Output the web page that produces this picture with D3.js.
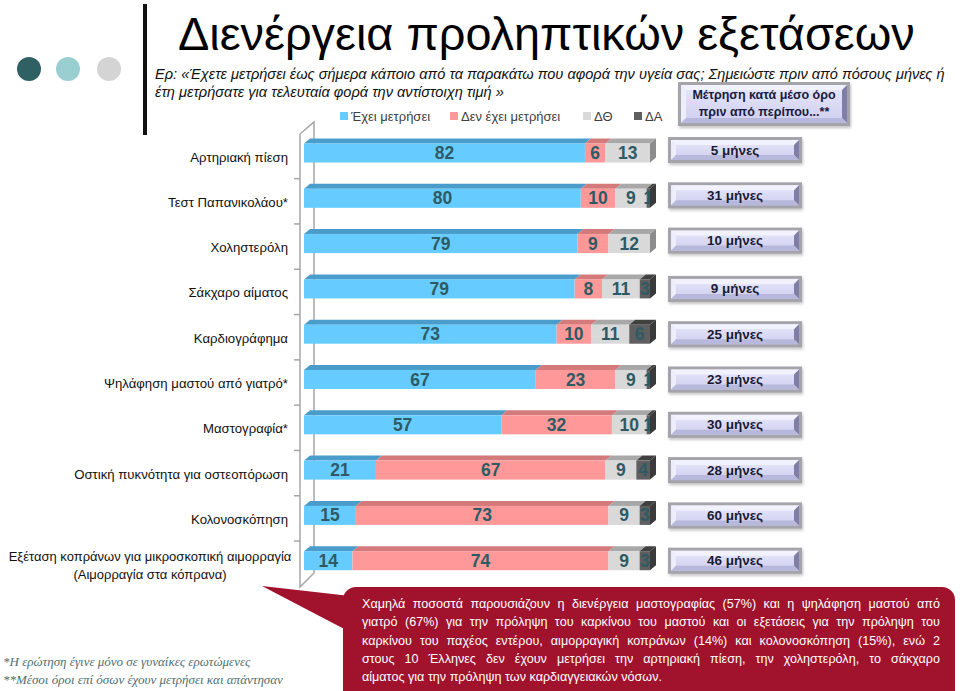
<!DOCTYPE html>
<html><head><meta charset="utf-8">
<script src="https://cdn.jsdelivr.net/npm/d3@7"></script>
<style>body{margin:0;background:#fff}svg{display:block}</style>
</head><body>
<script>
// ---- DATA ----
const categories = ["Αρτηριακή πίεση","Τεστ Παπανικολάου*","Χοληστερόλη","Σάκχαρο αίματος","Καρδιογράφημα","Ψηλάφηση μαστού από γιατρό*","Μαστογραφία*","Οστική πυκνότητα για οστεοπόρωση","Κολονοσκόπηση","Εξέταση κοπράνων για μικροσκοπική αιμορραγία|(Αιμορραγία στα κόπρανα)"];
const measured    = [82,80,79,79,73,67,57,21,15,14];
const notMeasured = [6,10,9,8,10,23,32,67,73,74];
const dontKnow    = [13,9,12,11,11,9,10,9,9,9];
const noAnswer    = [0,1,0,3,6,1,1,4,3,3];
const months      = [5,31,10,9,25,23,30,28,60,46];
const seriesNames = ["Έχει μετρήσει","Δεν έχει μετρήσει","ΔΘ","ΔΑ"];
const monthUnit = "μήνες";
const title = "Διενέργεια προληπτικών εξετάσεων";
const subtitle = ["Ερ: «Έχετε μετρήσει έως σήμερα κάποιο από τα παρακάτω που αφορά την υγεία σας; Σημειώστε πριν από πόσους μήνες ή","έτη μετρήσατε για τελευταία φορά την αντίστοιχη τιμή »"];
const headerBox = ["Μέτρηση κατά μέσο όρο","πριν από περίπου...**"];
const footnotes = ["*Η ερώτηση έγινε μόνο σε γυναίκες ερωτώμενες","**Μέσοι όροι επί όσων έχουν μετρήσει και απάντησαν"];
const calloutLines = ["Χαμηλά ποσοστά παρουσιάζουν η διενέργεια μαστογραφίας (57%) και η ψηλάφηση μαστού από","γιατρό (67%) για την πρόληψη του καρκίνου του μαστού και οι εξετάσεις για την πρόληψη του","καρκίνου του παχέος εντέρου, αιμορραγική κοπράνων (14%) και κολονοσκόπηση (15%), ενώ 2","στους 10 Έλληνες δεν έχουν μετρήσει την αρτηριακή πίεση, την χοληστερόλη, το σάκχαρο","αίματος για την πρόληψη των καρδιαγγειακών νόσων."];

// ---- STYLE ----
const W = 960, H = 691;
const front = ["#66CCFF","#FF9999","#D9D9D9","#5F5F5F"];
const topC  = ["#4A9DCB","#D47A7A","#A8A8A8","#404040"];
const sideC = ["#3F88B0","#C06060","#8C8C8C","#3A3A3A"];
const DX = 6, DY = 5;

const svg = d3.select("body").append("svg").attr("width", W).attr("height", H);
const defs = svg.append("defs");
const lg = defs.append("linearGradient").attr("id","lav").attr("x1",0).attr("y1",0).attr("x2",0).attr("y2",1);
lg.append("stop").attr("offset","0%").attr("stop-color","#E6E6FA");
lg.append("stop").attr("offset","100%").attr("stop-color","#CFCFF0");
const blur = defs.append("filter").attr("id","sh").attr("x","-20%").attr("y","-30%").attr("width","140%").attr("height","160%");
blur.append("feGaussianBlur").attr("stdDeviation",1.5);

function fit(t, w){ const fs = +t.attr("font-size"); const n=t.node().getComputedTextLength(); t.attr("font-size", fs*w/n); }

// decoration
const dots = [["#2F6064",29],["#9ACFD1",68],["#D4D4D4",109]];
svg.selectAll("circle.dot").data(dots).enter().append("circle")
  .attr("cx",d=>d[1]).attr("cy",69).attr("r",12).attr("fill",d=>d[0]);
svg.append("rect").attr("x",143).attr("y",4).attr("width",4).attr("height",131).attr("fill","#111");

// title
const tt = svg.append("text").attr("x",178).attr("y",50).attr("font-family","Liberation Sans, Arial, sans-serif")
  .attr("font-size",44).attr("fill","#000").text(title);
fit(tt, 737);

const subs = svg.selectAll("text.sub").data(subtitle).enter().append("text")
  .attr("x",155).attr("y",(d,i)=>79+i*18).attr("font-family","Liberation Sans, Arial, sans-serif")
  .attr("font-style","italic").attr("font-size",13.6).attr("fill","#111").text(d=>d);
const s0 = d3.select(subs.nodes()[0]); fit(s0, 790); d3.select(subs.nodes()[1]).attr("font-size", s0.attr("font-size"));

// legend
const legX = [340,450,583,634];
const leg = svg.selectAll("g.leg").data(seriesNames).enter().append("g").attr("transform",(d,i)=>`translate(${legX[i]},0)`);
leg.append("rect").attr("x",0).attr("y",112).attr("width",8).attr("height",8).attr("fill",(d,i)=>front[i]);
leg.append("text").attr("x",11).attr("y",121).attr("font-family","Liberation Sans, Arial, sans-serif")
  .attr("font-size",13).attr("fill","#404040").text(d=>d);

// ---- SCALES ----
const x = d3.scaleLinear().domain([0,1]).range([304,650]);
const y = d3.scaleBand().domain(categories).range([130.35,583.35]).paddingInner(0.58).paddingOuter(0.29);
const bh = y.bandwidth();

const rows = categories.map((c,i)=>({cat:c, s0:measured[i], s1:notMeasured[i], s2:dontKnow[i], s3:noAnswer[i]}));
const keys = ["s0","s1","s2","s3"];
const stack = d3.stack().keys(keys).offset(d3.stackOffsetExpand)(rows);

// axis (3D wall edges)
const axG = svg.append("g").attr("stroke","#A6A6A6").attr("stroke-width",1.5).attr("fill","none");
axG.append("path").attr("d","M300,134 L314,122 L314,573 L300,587 L300,134");
const bounds = categories.slice(0,-1).map(c => y(c) + bh + (y.step()-bh)/2 + 3);
axG.selectAll("line.tk").data(bounds).enter().append("line")
  .attr("x1",294).attr("x2",300).attr("y1",d=>d).attr("y2",d=>d);

// left labels
const lab = svg.selectAll("text.cat").data(categories).enter().append("text")
  .attr("font-family","Liberation Sans, Arial, sans-serif").attr("font-size",13.2).attr("fill","#111");
lab.each(function(d){
  const t = d3.select(this), parts = d.split("|"), cy = y(d)+bh/2+4;
  if(parts.length===1){ t.attr("x",288).attr("y",cy+4.5).attr("text-anchor","end").text(d); }
  else {
    t.attr("text-anchor","middle").attr("font-size",13);
    parts.forEach((p,k)=>t.append("tspan").attr("x",150).attr("y",cy-4+k*18).text(p));
  }
});

// bars
const barsG = svg.append("g");
const segs = [];
stack.forEach((layer,li)=>{
  layer.forEach((d,ri)=>{
    const v = rows[ri][keys[li]];
    if(v>0) segs.push({li, ri, v, x0:x(d[0]), x1:x(d[1]), y:y(rows[ri].cat)});
  });
});
barsG.selectAll("path.top").data(segs).enter().append("path")
  .attr("d",s=>`M${s.x0},${s.y} L${s.x0+DX},${s.y-DY} L${s.x1+DX},${s.y-DY} L${s.x1},${s.y} Z`)
  .attr("fill",s=>topC[s.li]);
barsG.selectAll("rect.fr").data(segs).enter().append("rect")
  .attr("x",s=>s.x0).attr("y",s=>s.y).attr("width",s=>s.x1-s.x0).attr("height",bh)
  .attr("fill",s=>front[s.li]);
barsG.selectAll("text.val").data(segs).enter().append("text")
  .attr("x",s=>(s.x0+s.x1)/2).attr("y",s=>s.y+bh/2+6)
  .attr("text-anchor","middle").attr("font-family","Liberation Sans, Arial, sans-serif")
  .attr("font-weight","bold").attr("font-size",17.5).attr("fill","#2E5B63").text(s=>s.v);
const lastSegs = d3.rollups(segs, v=>v[v.length-1], s=>s.ri).map(d=>d[1]);
barsG.selectAll("path.side").data(lastSegs).enter().append("path")
  .attr("d",s=>`M${s.x1},${s.y} L${s.x1+DX},${s.y-DY} L${s.x1+DX},${s.y+bh-DY} L${s.x1},${s.y+bh} Z`)
  .attr("fill",s=>sideC[s.li]);

// bevel box
function bevel(g, bx, by, bw, bh2){
  g.append("rect").attr("x",bx+1).attr("y",by+2).attr("width",bw).attr("height",bh2).attr("fill","#9a9a9a").attr("opacity",0.6).attr("filter","url(#sh)");
  g.append("rect").attr("x",bx).attr("y",by).attr("width",bw).attr("height",bh2).attr("fill","#A4A4AA");
  g.append("rect").attr("x",bx+3).attr("y",by+3).attr("width",bw-6).attr("height",bh2-6).attr("fill","url(#lav)");
  const i=3, b=5;
  g.append("path").attr("d",`M${bx+i},${by+i} L${bx+bw-i},${by+i} L${bx+bw-i-b},${by+i+b} L${bx+i+b},${by+i+b} Z`).attr("fill","#F4F4FF").attr("opacity",0.85);
  g.append("path").attr("d",`M${bx+i},${by+i} L${bx+i+b},${by+i+b} L${bx+i+b},${by+bh2-i-b} L${bx+i},${by+bh2-i} Z`).attr("fill","#EDEDFC");
  g.append("path").attr("d",`M${bx+bw-i},${by+i} L${bx+bw-i},${by+bh2-i} L${bx+bw-i-b},${by+bh2-i-b} L${bx+bw-i-b},${by+i+b} Z`).attr("fill","#7E7EA6");
  g.append("path").attr("d",`M${bx+i},${by+bh2-i} L${bx+bw-i},${by+bh2-i} L${bx+bw-i-b},${by+bh2-i-b} L${bx+i+b},${by+bh2-i-b} Z`).attr("fill","#B8B8DC");
}
const boxG = svg.append("g");
categories.forEach((c,i)=>{
  const cy = y(c)+bh/2 - (i<3?3:0);
  const g = boxG.append("g");
  bevel(g, 668, cy-13, 134, 26);
  g.append("text").attr("x",735).attr("y",cy+4.5).attr("text-anchor","middle")
    .attr("font-family","Liberation Sans, Arial, sans-serif").attr("font-weight","bold")
    .attr("font-size",13.5).attr("fill","#1A1A33").text(`${months[i]} ${monthUnit}`);
});
const hg = svg.append("g");
bevel(hg, 678, 82, 172, 44);
hg.selectAll("text").data(headerBox).enter().append("text").attr("x",764).attr("y",(d,i)=>99+i*17)
  .attr("text-anchor","middle").attr("font-family","Liberation Sans, Arial, sans-serif").attr("font-weight","bold")
  .attr("font-size",12.5).attr("fill","#1A1A40").text(d=>d);

// footnotes
svg.selectAll("text.fn").data(footnotes).enter().append("text")
  .attr("x",3).attr("y",(d,i)=>666+i*18).attr("font-family","Liberation Serif, Times New Roman, serif")
  .attr("font-style","italic").attr("font-size",13).attr("fill","#4F6F70").text(d=>d);

// callout
const red = "#A1122D";
svg.append("path").attr("d","M262,586 L350,596 L350,632 Z").attr("fill",red);
svg.append("rect").attr("x",343).attr("y",587).attr("width",612).attr("height",120).attr("rx",13).attr("fill",red);
const cg = svg.append("g").attr("font-family","Liberation Sans, Arial, sans-serif").attr("font-size",12.6).attr("fill","#fff");
const L = 362, R = 940;
calloutLines.forEach((line,li)=>{
  const ly = 608 + li*18.3;
  const words = line.split(" ");
  const ws = words.map(w=>{ const t = cg.append("text").attr("y",ly).text(w); return {t, w:t.node().getComputedTextLength()}; });
  const total = d3.sum(ws, d=>d.w);
  const last = li===calloutLines.length-1;
  const gap = last ? 3.5 : (R-L-total)/(words.length-1);
  let cx = L;
  ws.forEach(o=>{ o.t.attr("x",cx); cx += o.w + gap; });
});
</script>
</body></html>
